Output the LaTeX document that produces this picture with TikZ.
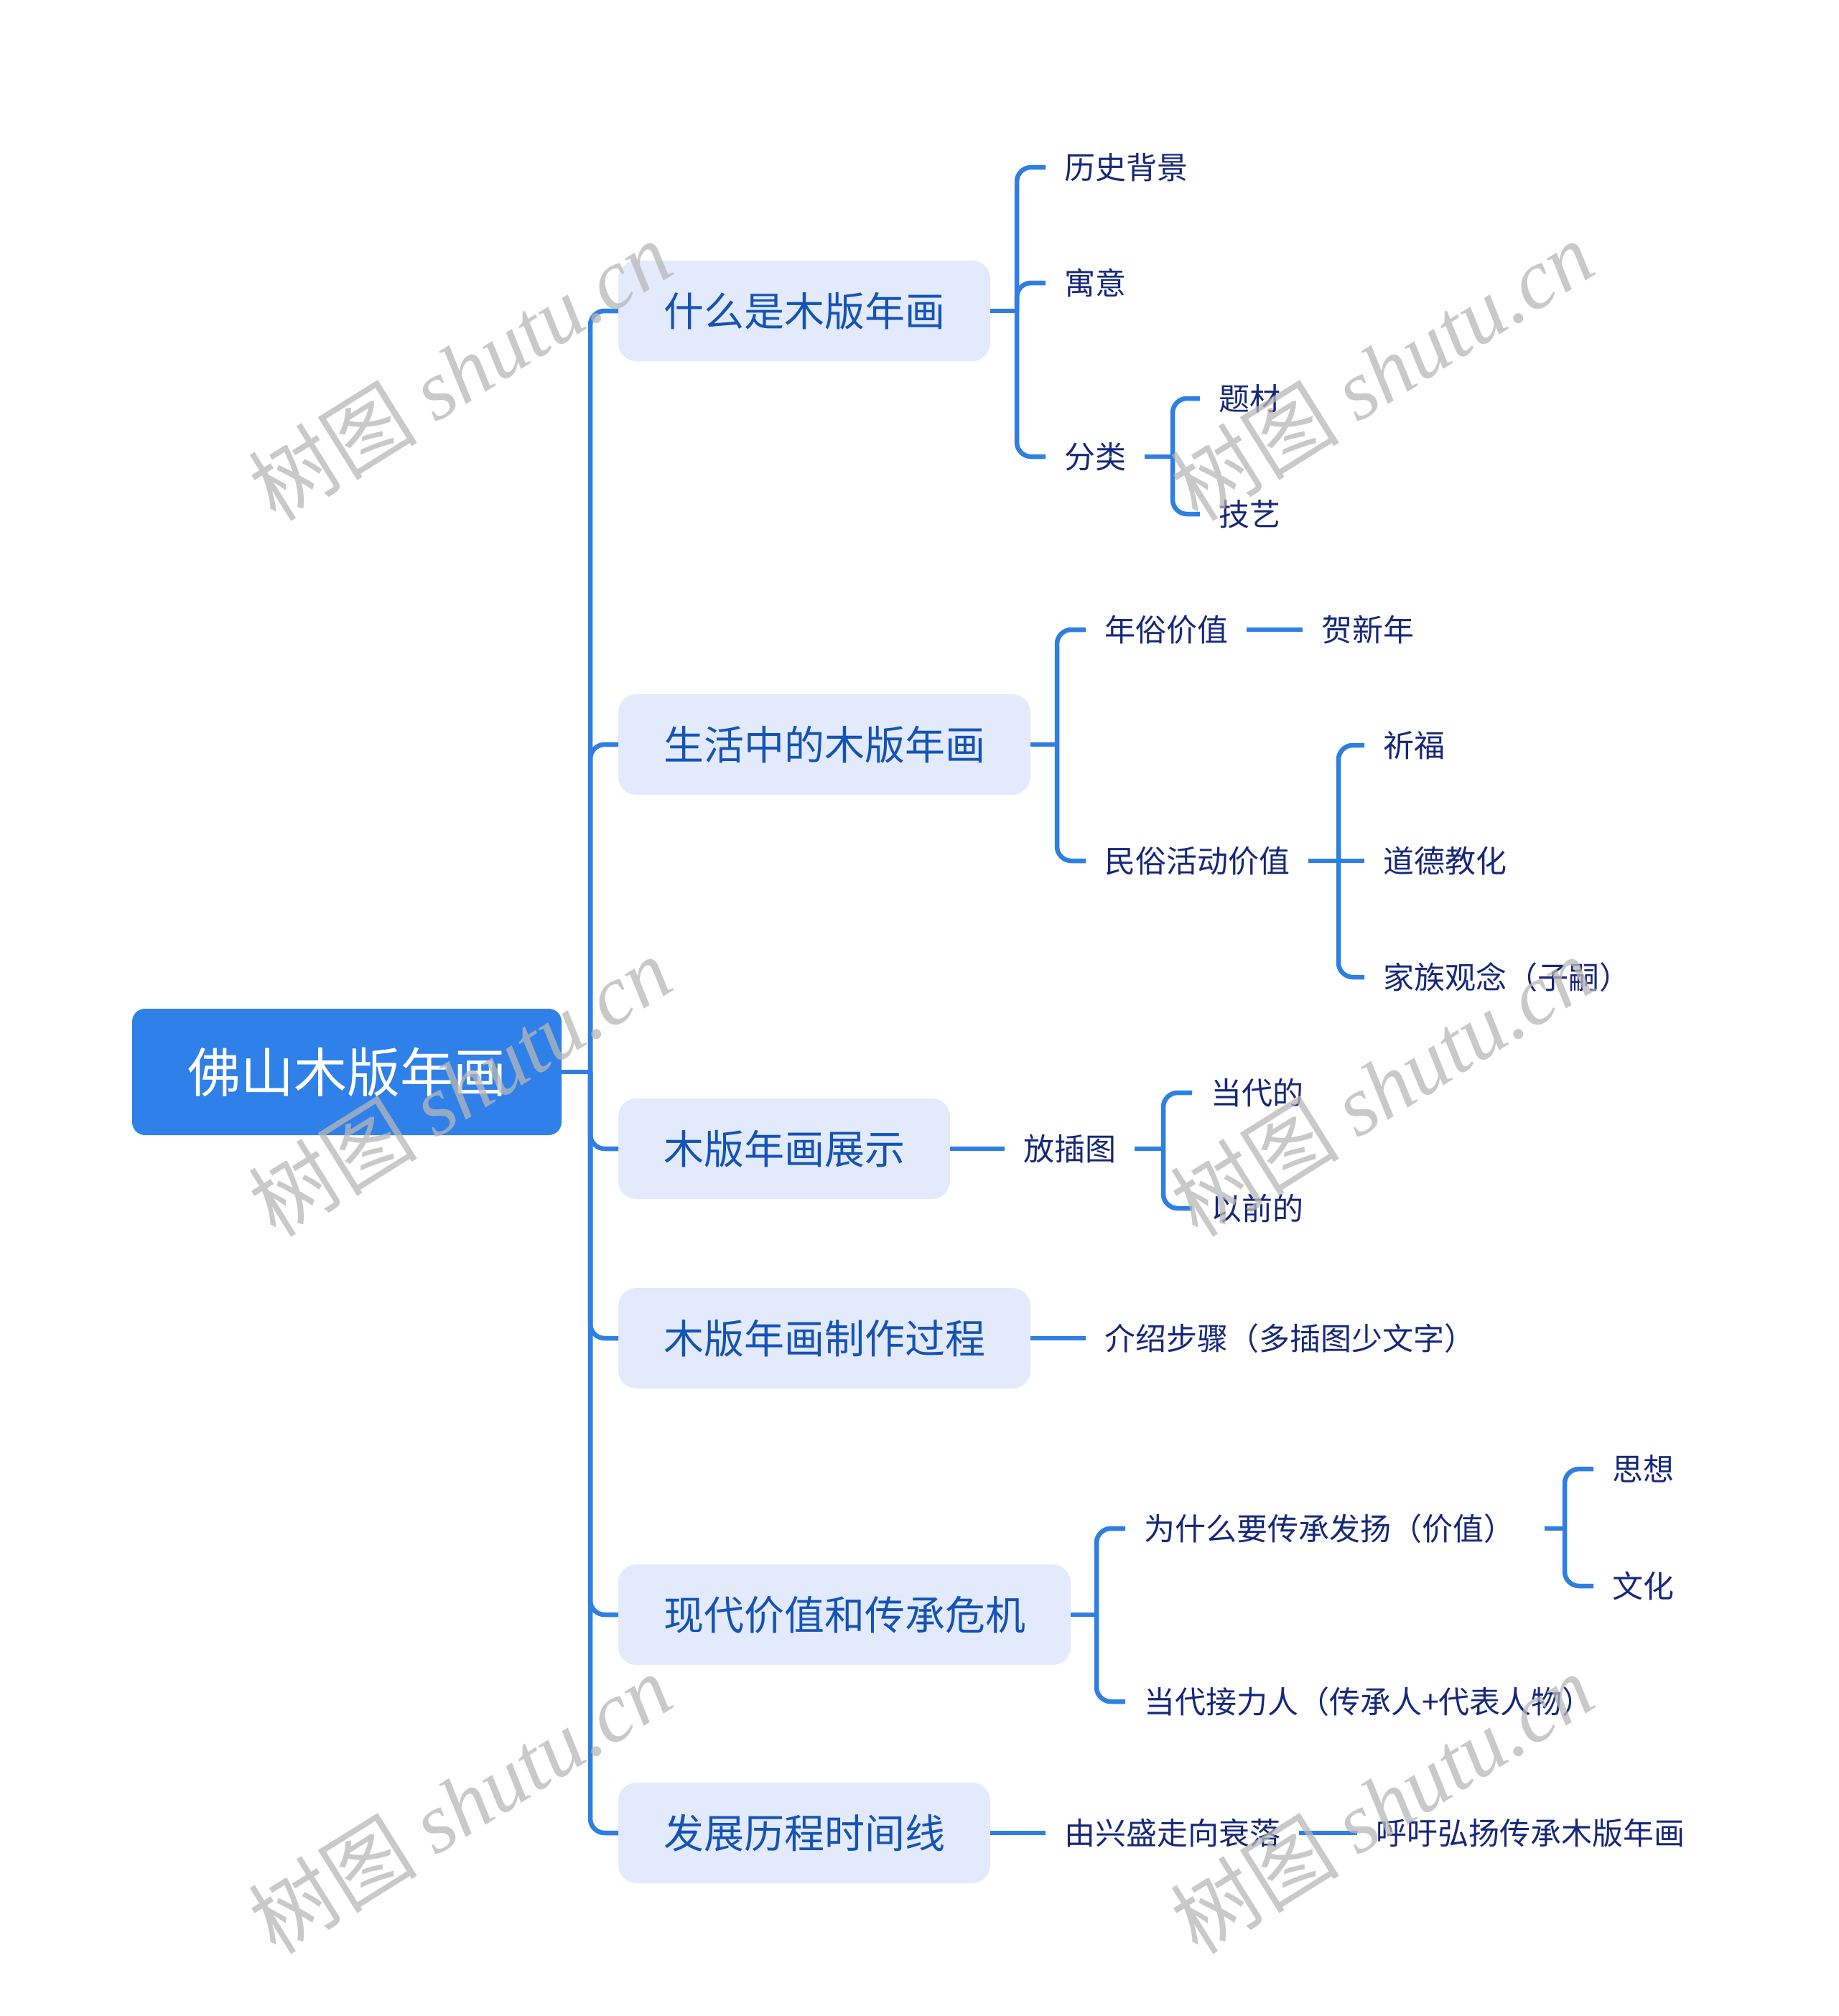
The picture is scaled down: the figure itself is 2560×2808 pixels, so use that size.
\documentclass[tikz,border=0pt]{standalone}
\usepackage{fontspec}
\setmainfont{Noto Sans CJK SC}
\newfontfamily\wmlat{Liberation Serif}
\definecolor{linec}{HTML}{2F7FE3}
\definecolor{rootc}{HTML}{2F80E8}
\definecolor{lfill}{HTML}{E2EAFB}
\definecolor{ltext}{HTML}{1553B5}
\definecolor{mtext}{HTML}{16287A}
\definecolor{wmc}{HTML}{B8B8B8}
\begin{document}
\begin{tikzpicture}[x=1pt,y=-1pt,
  conn/.style={draw=linec, line width=6.5pt, rounded corners=20pt},
  rootbox/.style={fill=rootc, text=white, rounded corners=18pt, minimum width=598pt, minimum height=176pt, inner sep=0pt, outer sep=0pt, anchor=west, font=\fontsize{74}{80}\selectfont, text height=61pt, text depth=5pt},
  lbox/.style={fill=lfill, text=ltext, rounded corners=25pt, minimum height=140pt, inner xsep=63pt, inner ysep=0pt, outer sep=0pt, anchor=west, font=\fontsize{56}{64}\selectfont, text height=46.5pt, text depth=4pt},
  leaf/.style={text=mtext, inner xsep=26pt, inner ysep=4pt, outer sep=0pt, anchor=west, font=\fontsize{43}{48}\selectfont, text height=35.5pt, text depth=3pt},
  wm/.style={text=wmc, opacity=0.75, rotate=32, inner sep=0pt, font=\fontsize{118}{130}\selectfont}
]
\useasboundingbox (0,0) rectangle (2560,2808);
\fill[white] (0,0) rectangle (2560,2808);

% root and main topics
\node[rootbox] (root) at (184,1493) {佛山木版年画};
\node[lbox] (b1) at (861,433) {什么是木版年画};
\node[lbox] (b2) at (861,1037) {生活中的木版年画};
\node[lbox] (b3) at (861,1600) {木版年画展示};
\node[lbox] (b4) at (861,1864) {木版年画制作过程};
\node[lbox] (b5) at (861,2249) {现代价值和传承危机};
\node[lbox] (b6) at (861,2553) {发展历程时间线};

% leaves
\node[leaf] (a1) at (1456,233) {历史背景};
\node[leaf] (a2) at (1456,394) {寓意};
\node[leaf] (a3) at (1456,636) {分类};
\node[leaf] (a31) at (1671,555) {题材};
\node[leaf] (a32) at (1671,716) {技艺};
\node[leaf] (c1) at (1512,877) {年俗价值};
\node[leaf] (c11) at (1814,877) {贺新年};
\node[leaf] (c2) at (1512,1199) {民俗活动价值};
\node[leaf] (c21) at (1900,1038) {祈福};
\node[leaf] (c22) at (1900,1199) {道德教化};
\node[leaf] (c23) at (1900,1361) {家族观念（子嗣）};
\node[leaf] (d1) at (1399,1600) {放插图};
\node[leaf] (d11) at (1660,1522) {当代的};
\node[leaf] (d12) at (1660,1683) {以前的};
\node[leaf] (e1) at (1512,1864) {介绍步骤（多插图少文字）};
\node[leaf] (f1) at (1567,2129) {为什么要传承发扬（价值）};
\node[leaf] (f11) at (2219,2046) {思想};
\node[leaf] (f12) at (2219,2209) {文化};
\node[leaf] (f2) at (1567,2370) {当代接力人（传承人+代表人物）};
\node[leaf] (g1) at (1456,2553) {由兴盛走向衰落};
\node[leaf] (g2) at (1890,2553) {呼吁弘扬传承木版年画};

% junctions
\coordinate (s0) at (822,1493);
\coordinate (s1) at (1416,433);
\coordinate (s13) at (1633,636);
\coordinate (s2) at (1472,1037);
\coordinate (s22) at (1864,1199);
\coordinate (s3) at (1620,1600);
\coordinate (s5) at (1527,2249);
\coordinate (s51) at (2179,2129);

% connectors
\draw[conn] (root.east) -- (s0);
\foreach \n in {b1,b2,b3,b4,b5,b6} \draw[conn] (s0) |- (\n.west);

\draw[conn] (b1.east) -- (s1);
\foreach \n in {a1,a2,a3} \draw[conn] (s1) |- (\n.west);
\draw[conn] (a3.east) -- (s13);
\foreach \n in {a31,a32} \draw[conn] (s13) |- (\n.west);

\draw[conn] (b2.east) -- (s2);
\foreach \n in {c1,c2} \draw[conn] (s2) |- (\n.west);
\draw[conn] (c1.east) -- (c11.west);
\draw[conn] (c2.east) -- (s22);
\draw[conn] (s22) |- (c21.west);
\draw[conn] (s22) -- (c22.west);
\draw[conn] (s22) |- (c23.west);

\draw[conn] (b3.east) -- (d1.west);
\draw[conn] (d1.east) -- (s3);
\foreach \n in {d11,d12} \draw[conn] (s3) |- (\n.west);

\draw[conn] (b4.east) -- (e1.west);

\draw[conn] (b5.east) -- (s5);
\foreach \n in {f1,f2} \draw[conn] (s5) |- (\n.west);
\draw[conn] ([xshift=16pt]f1.east) -- (s51);
\foreach \n in {f11,f12} \draw[conn] (s51) |- (\n.west);

\draw[conn] (b6.east) -- (g1.west);
\draw[conn] (g1.east) -- (g2.west);

% watermarks
\node[wm] (w1) at (640,516) {树图 {\wmlat\itshape shutu.cn}};
\node[wm] (w2) at (1924,516) {树图 {\wmlat\itshape shutu.cn}};
\node[wm] (w3) at (640,1513) {树图 {\wmlat\itshape shutu.cn}};
\node[wm] (w4) at (1924,1513) {树图 {\wmlat\itshape shutu.cn}};
\node[wm] (w5) at (640,2512) {树图 {\wmlat\itshape shutu.cn}};
\node[wm] (w6) at (1924,2512) {树图 {\wmlat\itshape shutu.cn}};
\end{tikzpicture}
\end{document}
